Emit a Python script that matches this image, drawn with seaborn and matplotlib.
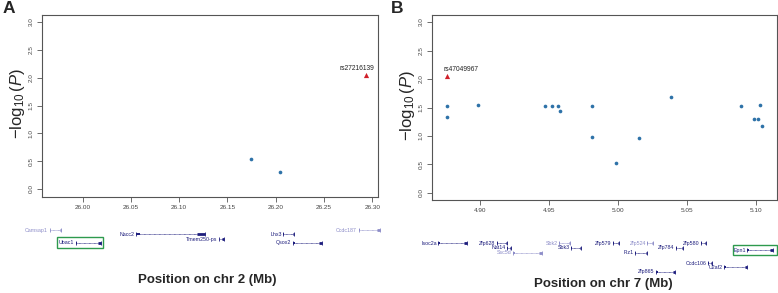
import matplotlib
matplotlib.use("Agg")
import matplotlib.pyplot as plt
from matplotlib.patches import Rectangle
import seaborn as sns
import pandas as pd

# ---------------- data ----------------
# Panel A (chr 2)
a_pos = [26.174, 26.204, 26.294]
a_logp = [0.54, 0.31, 2.05]
a_lead = [False, False, True]
a_snp_label = "rs27216139"

a_gene_names = ["Camsap1", "Ubac1", "Nacc2", "Tmem250-ps", "Lhx3", "Qsox2", "Ccdc187"]
a_gene_start = [25.966, 25.993, 26.055, 26.141, 26.208, 26.218, 26.286]
a_gene_end = [25.978, 26.019, 26.127, 26.146, 26.219, 26.248, 26.308]
a_gene_row = [0, 3, 1, 2.1, 1, 3, 0]
a_gene_light = [True, False, False, False, False, False, True]
a_boxed = "Ubac1"

# Panel B (chr 7)
b_pos = [4.876, 4.876, 4.876, 4.898, 4.947, 4.952, 4.956, 4.958, 4.981, 4.981,
         4.9986, 5.015, 5.038, 5.089, 5.098, 5.101, 5.103, 5.104]
b_logp = [2.06, 1.52, 1.33, 1.54, 1.52, 1.52, 1.52, 1.44, 1.52, 0.99,
          0.53, 0.97, 1.69, 1.52, 1.29, 1.29, 1.54, 1.17]
b_lead = [True] + [False] * 17
b_snp_label = "rs47049967"

b_gene_names = ["Isoc2a", "Zfp628", "Nat14", "Ssc5d", "Sbk2", "Sbk3", "Zfp579",
                "Zfp524", "Fiz1", "Zfp784", "Zfp580", "Ccdc106", "U2af2", "Zfp865", "Epn1"]
b_gene_start = [4.8696, 4.9123, 4.9196, 4.9239, 4.9573, 4.9660, 4.9964,
                5.0211, 5.0124, 5.0421, 5.0602, 5.0653, 5.0769, 5.0276, 5.0936]
b_gene_end = [4.8906, 4.9196, 4.9225, 4.9449, 4.9652, 4.9732, 5.0008,
              5.0254, 5.0211, 5.0471, 5.0638, 5.0682, 5.0936, 5.0414, 5.1124]
b_gene_row = [0, 0, 1, 2, 0, 1, 0, 0, 2, 1, 0, 4.17, 5, 6.04, 1.46]
b_gene_light = [False, False, False, True, True, False, False, True, False, False,
                False, False, False, False, False]
b_boxed = "Epn1"

y_ticks = [0.0, 0.5, 1.0, 1.5, 2.0, 2.5, 3.0]
a_xticks = [26.00, 26.05, 26.10, 26.15, 26.20, 26.25, 26.30]
b_xticks = [4.90, 4.95, 5.00, 5.05, 5.10]

# ---------------- style ----------------
sns.set_style("white")
plt.rcParams["font.family"] = ["Liberation Sans", "DejaVu Sans"]
plt.rcParams["mathtext.fontset"] = "custom"
plt.rcParams["mathtext.rm"] = "Liberation Sans"
plt.rcParams["mathtext.it"] = "Liberation Sans:italic"

PT_COLOR = "#2e72a8"
LEAD_COLOR = "#d0202a"
GENE_DARK = "#1c1c7c"
GENE_LIGHT = "#8c8cc8"
BOX_GREEN = "#2e9a4e"
AX_COLOR = "#555555"
TICK_TXT = "#444444"

fig = plt.figure(figsize=(7.78, 2.93), dpi=100)


def style_main(ax, xlim, ylim, xticks, fmt):
    ax.set_xlim(*xlim)
    ax.set_ylim(*ylim)
    ax.set_yticks(y_ticks)
    ax.set_yticklabels([f"{v:.1f}" for v in y_ticks], rotation=90, va="center")
    ax.set_xticks(xticks)
    ax.set_xticklabels([fmt.format(v) for v in xticks])
    for s in ax.spines.values():
        s.set_visible(True)
        s.set_color(AX_COLOR)
        s.set_linewidth(0.8)
    ax.tick_params(axis="both", which="major", direction="out", length=3.5,
                   width=0.6, color=AX_COLOR, labelsize=4.6, labelcolor=TICK_TXT,
                   pad=2.5, left=True, bottom=True)
    ax.set_xlabel("")
    ax.set_ylabel("")
    if ax.get_legend() is not None:
        ax.get_legend().remove()


def draw_points(ax, pos, logp, lead, label, off):
    df = pd.DataFrame({"pos": pos, "logp": logp, "lead": lead})
    sns.scatterplot(data=df[~df["lead"]], x="pos", y="logp", ax=ax,
                    color=PT_COLOR, s=7, marker="o", linewidth=0, legend=False)
    sns.scatterplot(data=df[df["lead"]], x="pos", y="logp", ax=ax,
                    color=LEAD_COLOR, s=14, marker="^", linewidth=0, legend=False)
    lead_row = df[df["lead"]].iloc[0]
    ax.annotate(label, (lead_row["pos"], lead_row["logp"]),
                xytext=off[:2], textcoords="offset points", ha=off[2],
                va="bottom", fontsize=4.8, color="#222222")


def draw_genes(gax, xlim, ylim, names, starts, ends, rows, light, boxed, box_pad):
    gax.set_xlim(*xlim)
    gax.set_ylim(*ylim)
    gax.axis("off")
    span = xlim[1] - xlim[0]
    for n, s, e, r, lt in zip(names, starts, ends, rows, light):
        c = GENE_LIGHT if lt else GENE_DARK
        gax.plot([s, e], [r, r], color=c, lw=0.5, ls=(0, (1.2, 0.6)),
                 clip_on=False, solid_capstyle="butt")
        gax.plot([s, e], [r, r], ls="none", marker="|", ms=2.6, mew=0.6,
                 color=c, clip_on=False)
        ex = max((e - s) * 0.12, span * 0.004)
        gax.plot([e - ex, e], [r, r], color=c, lw=2.0, clip_on=False,
                 solid_capstyle="butt")
        gax.plot([s, s + ex * 0.5], [r, r], color=c, lw=1.4, clip_on=False,
                 solid_capstyle="butt")
        gax.annotate(n, (s, r), xytext=(-1.2, 0), textcoords="offset points",
                     ha="right", va="center", fontsize=3.8, color=c,
                     annotation_clip=False)
        if n == boxed:
            x0, x1, hh = box_pad
            rect = Rectangle((x0, r - hh), x1 - x0, 2 * hh, fill=False,
                             edgecolor=BOX_GREEN, lw=1.0, clip_on=False)
            gax.add_patch(rect)


# ---------------- panel A ----------------
axA = fig.add_axes([0.0540, 0.3276, 0.4319, 0.6212])
draw_points(axA, a_pos, a_logp, a_lead, a_snp_label, (-7.0, 2.2, "center"))
style_main(axA, (25.958, 26.306), (-0.144, 3.126), a_xticks, "{:.2f}")

gA = fig.add_axes([0.0540, 0.1399, 0.4319, 0.1024])
draw_genes(gA, (25.958, 26.306), (5.12, -1.86), a_gene_names, a_gene_start,
           a_gene_end, a_gene_row, a_gene_light, a_boxed, (25.974, 26.021, 1.3))

# ---------------- panel B ----------------
axB = fig.add_axes([0.5553, 0.3174, 0.4434, 0.6314])
draw_points(axB, b_pos, b_logp, b_lead, b_snp_label, (-2.9, 2.2, "left"))
style_main(axB, (4.865, 5.115), (-0.123, 3.123), b_xticks, "{:.2f}")

gB = fig.add_axes([0.5553, 0.0444, 0.4434, 0.150])
draw_genes(gB, (4.865, 5.115), (7.71, -1.46), b_gene_names, b_gene_start,
           b_gene_end, b_gene_row, b_gene_light, b_boxed, (5.0833, 5.1150, 1.1))

# ---------------- labels ----------------
ylab = r"$-\log_{10}(P)$"
fig.text(0.023, 0.645, ylab, rotation=90, ha="center", va="center", fontsize=12)
fig.text(0.524, 0.640, ylab, rotation=90, ha="center", va="center", fontsize=12)
fig.text(0.266, 0.044, "Position on chr 2 (Mb)", ha="center", va="center",
         fontsize=9.5, fontweight="bold")
fig.text(0.775, 0.031, "Position on chr 7 (Mb)", ha="center", va="center",
         fontsize=9.5, fontweight="bold")
fig.text(0.003, 0.995, "A", ha="left", va="top", fontsize=12.5, fontweight="bold")
fig.text(0.503, 0.995, "B", ha="left", va="top", fontsize=12.5, fontweight="bold")

fig.savefig("out.png", dpi=100)
